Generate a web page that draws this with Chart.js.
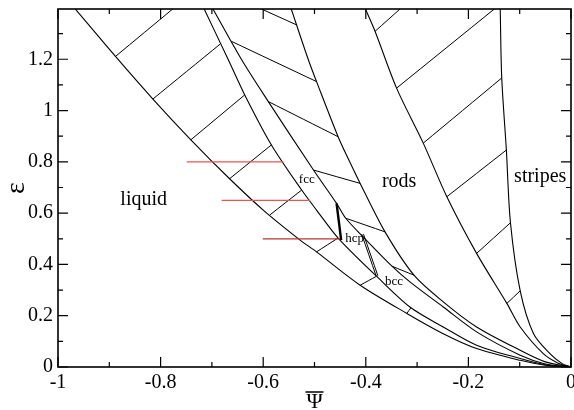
<!DOCTYPE html>
<html>
<head>
<meta charset="utf-8">
<script src="https://cdn.jsdelivr.net/npm/chart.js@4.4.1/dist/chart.umd.min.js"></script>
<style>
  html, body { margin: 0; padding: 0; background: #fff; }
  #wrap { width: 574px; height: 410px; }
</style>
</head>
<body>
<div id="wrap"><canvas id="phaseChart" width="574" height="410"></canvas></div>
<script>
// axis ticks
const xMajor = [-1, -0.8, -0.6, -0.4, -0.2, 0];
const xTickLabels = ['-1', '-0.8', '-0.6', '-0.4', '-0.2', '0'];
const xMinor = [-0.9, -0.7, -0.5, -0.3, -0.1];
const yMajor = [0, 0.2, 0.4, 0.6, 0.8, 1, 1.2];
const yTickLabels = ['0', '0.2', '0.4', '0.6', '0.8', '1', '1.2'];
const yMinor = [0.1, 0.3, 0.5, 0.7, 0.9, 1.1, 1.3];

// phase boundaries [psi, eps]
const liquidEdge = [[-0.968,1.40],[-0.888,1.211],[-0.815,1.045],[-0.741,0.886],[-0.667,0.737],[-0.600,0.612],[-0.528,0.495],[-0.496,0.449],[-0.411,0.319],[-0.320,0.209],[-0.249,0.130],[-0.184,0.072],[-0.099,0.026],[-0.05,0.007],[0,0]];
const solidLeft = [[-0.716,1.40],[-0.668,1.198],[-0.636,1.061],[-0.584,0.866],[-0.525,0.690],[-0.496,0.612],[-0.454,0.503],[-0.379,0.354],[-0.314,0.234],[-0.249,0.156],[-0.184,0.085],[-0.099,0.033],[-0.05,0.009],[0,0]];
const solidRight = [[-0.699,1.40],[-0.642,1.198],[-0.590,1.035],[-0.502,0.768],[-0.457,0.638],[-0.439,0.580],[-0.407,0.511],[-0.349,0.393],[-0.314,0.332],[-0.249,0.234],[-0.184,0.137],[-0.099,0.046],[-0.05,0.012],[0,0]];
const rodsLeft = [[-0.546,1.40],[-0.512,1.198],[-0.496,1.113],[-0.454,0.898],[-0.433,0.807],[-0.411,0.716],[-0.3625,0.527],[-0.306,0.358],[-0.249,0.254],[-0.184,0.156],[-0.099,0.065],[-0.05,0.02],[0,0]];
const rodsRight = [[-0.4016,1.40],[-0.382,1.309],[-0.340,1.0875],[-0.288,0.873],[-0.242,0.664],[-0.184,0.443],[-0.125,0.248],[-0.099,0.156],[-0.054,0.052],[-0.025,0.015],[0,0]];
const stripesEdge = [[-0.138,1.40],[-0.135,1.127],[-0.126,0.846],[-0.118,0.5625],[-0.099,0.297],[-0.073,0.130],[-0.041,0.052],[-0.018,0.014],[0,0]];

// tie lines [psi1, eps1, psi2, eps2]
const liquidSolidTies = [[-0.888,1.211,-0.774,1.40],[-0.815,1.045,-0.684,1.259],[-0.741,0.886,-0.636,1.061],[-0.665,0.735,-0.584,0.866],[-0.587,0.593,-0.525,0.690],[-0.496,0.449,-0.454,0.503],[-0.411,0.319,-0.379,0.354],[-0.320,0.209,-0.312,0.231]];
const solidRodsTies = [[-0.610,1.402,-0.536,1.335],[-0.662,1.270,-0.496,1.113],[-0.590,1.035,-0.454,0.898],[-0.502,0.768,-0.411,0.716],[-0.439,0.580,-0.3625,0.527],[-0.349,0.393,-0.306,0.358]];
const rodsStripesTies = [[-0.382,1.309,-0.331,1.40],[-0.340,1.0875,-0.147,1.40],[-0.288,0.873,-0.135,1.127],[-0.242,0.664,-0.126,0.846],[-0.184,0.443,-0.118,0.5625],[-0.125,0.248,-0.099,0.297]];
// fcc/hcp and hcp/bcc borders
const fccHcpLine = [[-0.457,0.638],[-0.448,0.495]];
const hcpBccLine = [[-0.408,0.518],[-0.380,0.356]];
const hcpBccLine2 = [[-0.4045,0.518],[-0.3765,0.356]];

// red marks
const redEps = [0.8, 0.65, 0.5];
const redFrom = [-0.749, -0.681, -0.601];
const redTo = [-0.5605, -0.509, -0.450];
const redColors = ['#ec5252', '#e85454', '#b83434'];

// phase names and where they sit [psi, eps]
const phaseNames = ['liquid', 'fcc', 'rods', 'stripes', 'hcp', 'bcc'];
const phaseAt = [[-0.833,0.651],[-0.515,0.729],[-0.335,0.723],[-0.060,0.741],[-0.422,0.502],[-0.345,0.332]];
const phaseBig = [true, false, true, true, false, false];

const pts = arr => arr.map(p => ({x: p[0], y: p[1]}));
const seg = t => [{x: t[0], y: t[1]}, {x: t[2], y: t[3]}];

function lineSet(data, width, color){
  return { data, showLine: true, borderColor: color || '#000', borderWidth: width || 1.1,
           pointRadius: 0, tension: 0.3, fill: false };
}

const datasets = [];
redEps.forEach((e, i) => datasets.push(lineSet([{x: redFrom[i], y: e}, {x: redTo[i], y: e}], 1.3, redColors[i])));
[liquidEdge, solidLeft, solidRight, rodsLeft, rodsRight, stripesEdge].forEach(c => datasets.push(lineSet(pts(c))));
[...liquidSolidTies, ...solidRodsTies, ...rodsStripesTies].forEach(t => datasets.push(lineSet(seg(t), 1)));
datasets.push(lineSet(pts(fccHcpLine), 2.4));
datasets.push(lineSet(pts(hcpBccLine), 1));
datasets.push(lineSet(pts(hcpBccLine2), 1));

const serif = 'Liberation Serif, Times New Roman, serif';

const frameAndText = {
  id: 'frameAndText',
  afterDatasetsDraw(chart){
    const {ctx, chartArea: a} = chart;
    const xs = chart.scales.x, ys = chart.scales.y;
    ctx.save();
    ctx.strokeStyle = '#000';
    ctx.lineWidth = 1.6;
    ctx.strokeRect(a.left, a.top, a.right - a.left, a.bottom - a.top);
    ctx.lineWidth = 1.2;
    const tick = (vals, len) => {
      vals.forEach(v => {
        const px = xs.getPixelForValue(v);
        ctx.beginPath();
        ctx.moveTo(px, a.bottom); ctx.lineTo(px, a.bottom - len);
        ctx.moveTo(px, a.top); ctx.lineTo(px, a.top + len);
        ctx.stroke();
      });
    };
    const tickY = (vals, len) => {
      vals.forEach(v => {
        const py = ys.getPixelForValue(v);
        ctx.beginPath();
        ctx.moveTo(a.left, py); ctx.lineTo(a.left + len, py);
        ctx.moveTo(a.right, py); ctx.lineTo(a.right - len, py);
        ctx.stroke();
      });
    };
    tick(xMajor, 10); tick(xMinor, 5);
    tickY(yMajor, 10); tickY(yMinor, 5);

    // phase labels
    ctx.fillStyle = '#000';
    ctx.textAlign = 'center';
    ctx.textBaseline = 'middle';
    phaseNames.forEach((name, i) => {
      ctx.font = (phaseBig[i] ? '20px ' : '13px ') + serif;
      ctx.fillText(name, xs.getPixelForValue(phaseAt[i][0]), ys.getPixelForValue(phaseAt[i][1]));
    });

    // axis titles
    ctx.font = '22px ' + serif;
    ctx.textBaseline = 'alphabetic';
    const cx = (a.left + a.right) / 2;
    ctx.fillText('\u03A8', cx, 408);
    ctx.lineWidth = 1.5;
    ctx.beginPath();
    ctx.moveTo(cx - 9, 392); ctx.lineTo(cx + 9, 392);
    ctx.stroke();

    ctx.translate(17, (a.top + a.bottom) / 2);
    ctx.rotate(-Math.PI / 2);
    ctx.font = '28px ' + serif;
    ctx.textBaseline = 'middle';
    ctx.fillText('\u03B5', 0, 0);
    ctx.restore();
  }
};

new Chart(document.getElementById('phaseChart'), {
  type: 'scatter',
  data: { datasets },
  options: {
    responsive: false,
    animation: false,
    devicePixelRatio: 1,
    layout: { padding: { top: 9, right: 3, left: 0, bottom: 0 } },
    plugins: { legend: { display: false }, tooltip: { enabled: false } },
    scales: {
      x: {
        type: 'linear', min: -1, max: 0,
        grid: { display: false, drawTicks: false },
        border: { display: false },
        afterBuildTicks: s => { s.ticks = xMajor.map(v => ({value: v})); },
        afterFit: s => { s.height = 43; s.paddingLeft = 0; s.paddingRight = 0; },
        ticks: {
          autoSkip: false, maxRotation: 0, padding: 4, color: '#000',
          font: { family: serif, size: 20 },
          callback: (v, i) => xTickLabels[i]
        }
      },
      y: {
        type: 'linear', min: 0, max: 1.396,
        grid: { display: false, drawTicks: false },
        border: { display: false },
        afterBuildTicks: s => { s.ticks = yMajor.map(v => ({value: v})); },
        afterFit: s => { s.width = 58; s.paddingTop = 0; s.paddingBottom = 0; },
        ticks: {
          autoSkip: false, padding: 5, color: '#000',
          font: { family: serif, size: 20 },
          callback: (v, i) => yTickLabels[i]
        }
      }
    }
  },
  plugins: [frameAndText]
});
</script>
</body>
</html>
